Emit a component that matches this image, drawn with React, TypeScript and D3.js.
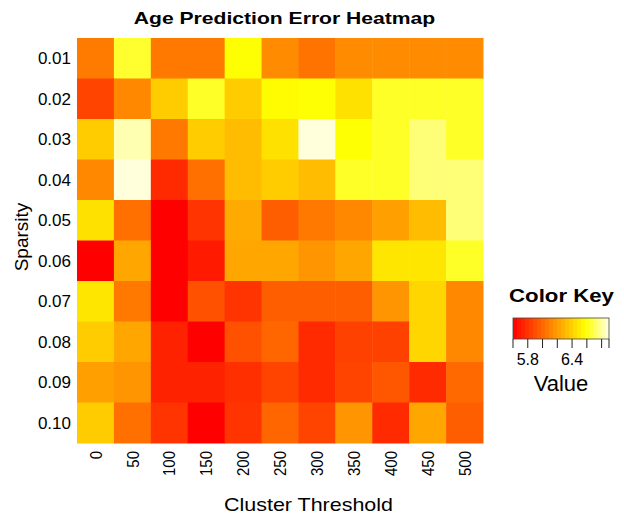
import React, { useEffect, useRef } from "react";
import * as d3 from "d3";

// cluster thresholds (columns) and sparsity levels (rows)
const thresholds = ["0", "50", "100", "150", "200", "250", "300", "350", "400", "450", "500"];
const sparsity = ["0.01", "0.02", "0.03", "0.04", "0.05", "0.06", "0.07", "0.08", "0.09", "0.10"];

// age prediction error, one array per sparsity row
const row01 = [6.07, 6.64, 6.06, 6.06, 6.58, 6.13, 6.04, 6.13, 6.13, 6.13, 6.13];
const row02 = [5.86, 6.12, 6.38, 6.63, 6.38, 6.56, 6.58, 6.46, 6.63, 6.63, 6.63];
const row03 = [6.38, 6.82, 6.06, 6.38, 6.32, 6.46, 6.88, 6.58, 6.63, 6.74, 6.63];
const row04 = [6.12, 6.88, 5.76, 6.03, 6.32, 6.38, 6.32, 6.63, 6.63, 6.74, 6.74];
const row05 = [6.46, 6.03, 5.6, 5.8, 6.25, 5.96, 6.06, 6.12, 6.21, 6.32, 6.74];
const row06 = [5.6, 6.24, 5.6, 5.7, 6.24, 6.24, 6.17, 6.24, 6.48, 6.48, 6.63];
const row07 = [6.48, 6.06, 5.6, 5.91, 5.8, 5.96, 5.96, 5.96, 6.17, 6.42, 6.12];
const row08 = [6.38, 6.24, 5.73, 5.6, 5.91, 5.99, 5.76, 5.85, 5.85, 6.42, 6.12];
const row09 = [6.21, 6.17, 5.73, 5.73, 5.78, 5.86, 5.76, 5.86, 5.93, 5.76, 6.0];
const row10 = [6.38, 6.03, 5.8, 5.6, 5.8, 5.99, 5.86, 6.17, 5.76, 6.24, 5.96];
const rows = [row01, row02, row03, row04, row05, row06, row07, row08, row09, row10];

const keyTicks = [5.6, 5.8, 6.0, 6.2, 6.4, 6.6, 6.8];
const keyLabels = [5.8, 6.4];
const valueMin = 5.6;
const valueMax = 6.9;

// R-like heat.colors: red -> yellow, then yellow -> white
const heatColor = (v: number) => {
  const t = Math.max(0, Math.min(1, (v - valueMin) / (valueMax - valueMin)));
  if (t <= 0.75) {
    return d3.hsl((t / 0.75) * 60, 1, 0.5).formatHex();
  }
  const s = 1 - ((t - 0.75) / 0.25) * 0.92;
  return d3.rgb(255, 255, Math.round(255 * (1 - s))).formatHex();
};

export default function App() {
  const ref = useRef<SVGSVGElement>(null);

  useEffect(() => {
    const svg = d3.select(ref.current);
    svg.selectAll("*").remove();
    const font = "Liberation Sans, Arial, sans-serif";

    const x = d3.scaleBand().domain(thresholds).range([77, 483]);
    const y = d3.scaleBand().domain(sparsity).range([38, 443]);

    const cells = rows.flatMap((r, i) => r.map((v, j) => ({ row: sparsity[i], col: thresholds[j], v })));
    svg.append("g").selectAll("rect").data(cells).enter().append("rect")
      .attr("x", (d) => x(d.col)!).attr("y", (d) => y(d.row)!)
      .attr("width", x.bandwidth() + 0.5).attr("height", y.bandwidth() + 0.5)
      .attr("fill", (d) => heatColor(d.v));

    // the original output is stretched sideways, so some text gets scaled in x
    svg.append("text").attr("transform", "translate(284.5,23.5) scale(1.28,1)").attr("text-anchor", "middle")
      .style("font-family", font).style("font-size", "16.5px").style("font-weight", "bold")
      .text("Age Prediction Error Heatmap");

    // row labels
    svg.append("g").selectAll("text").data(sparsity).enter().append("text")
      .attr("x", 71).attr("y", (d) => y(d)! + y.bandwidth() / 2).attr("dy", "0.36em")
      .attr("text-anchor", "end").style("font-family", font).style("font-size", "17px")
      .text((d) => d);

    // column labels, rotated
    svg.append("g").selectAll("text").data(thresholds).enter().append("text")
      .attr("transform", (d) => `translate(${x(d)! + x.bandwidth() / 2},451) rotate(-90) scale(1,1.15)`)
      .attr("dy", "0.36em").attr("text-anchor", "end")
      .style("font-family", font).style("font-size", "15px").text((d) => d);

    svg.append("text").attr("transform", "translate(308.5,510.5) scale(1.13,1)").attr("text-anchor", "middle")
      .style("font-family", font).style("font-size", "19px").text("Cluster Threshold");

    svg.append("text").attr("transform", "translate(28,237) rotate(-90)").attr("text-anchor", "middle")
      .style("font-family", font).style("font-size", "19px").text("Sparsity");

    // color key
    const kx = d3.scaleLinear().domain([valueMin, valueMax]).range([513, 609]);
    const steps = d3.range(24).map((i) => valueMin + ((valueMax - valueMin) * i) / 24);
    const stepW = (valueMax - valueMin) / 24;
    const key = svg.append("g");
    key.selectAll("rect").data(steps).enter().append("rect")
      .attr("x", (d) => kx(d)).attr("y", 318)
      .attr("width", kx(valueMin + stepW) - kx(valueMin) + 0.4).attr("height", 21)
      .attr("fill", (d) => heatColor(d + stepW / 2));
    key.append("rect").attr("x", 513).attr("y", 318).attr("width", 96).attr("height", 21)
      .attr("fill", "none").attr("stroke", "#444").attr("stroke-width", 0.8);
    key.selectAll("line").data(keyTicks).enter().append("line")
      .attr("x1", (d) => kx(d)).attr("x2", (d) => kx(d)).attr("y1", 339).attr("y2", 348)
      .attr("stroke", "#222").attr("stroke-width", 1);
    key.append("line").attr("x1", 609).attr("x2", 609).attr("y1", 339).attr("y2", 348)
      .attr("stroke", "#222");
    key.selectAll("text.lab").data(keyLabels).enter().append("text").attr("class", "lab")
      .attr("x", (d) => kx(d)).attr("y", 365).attr("text-anchor", "middle")
      .style("font-family", font).style("font-size", "16px").text((d) => d.toFixed(1));
    key.append("text").attr("transform", "translate(561.5,302) scale(1.17,1)").attr("text-anchor", "middle")
      .style("font-family", font).style("font-size", "19px").style("font-weight", "bold").text("Color Key");
    key.append("text").attr("x", 561).attr("y", 390.5).attr("text-anchor", "middle")
      .style("font-family", font).style("font-size", "22px").text("Value");
  }, []);

  return (
    <svg ref={ref} width={624} height={520}
      style={{ position: "absolute", left: 0, top: 0, background: "white" }} />
  );
}
